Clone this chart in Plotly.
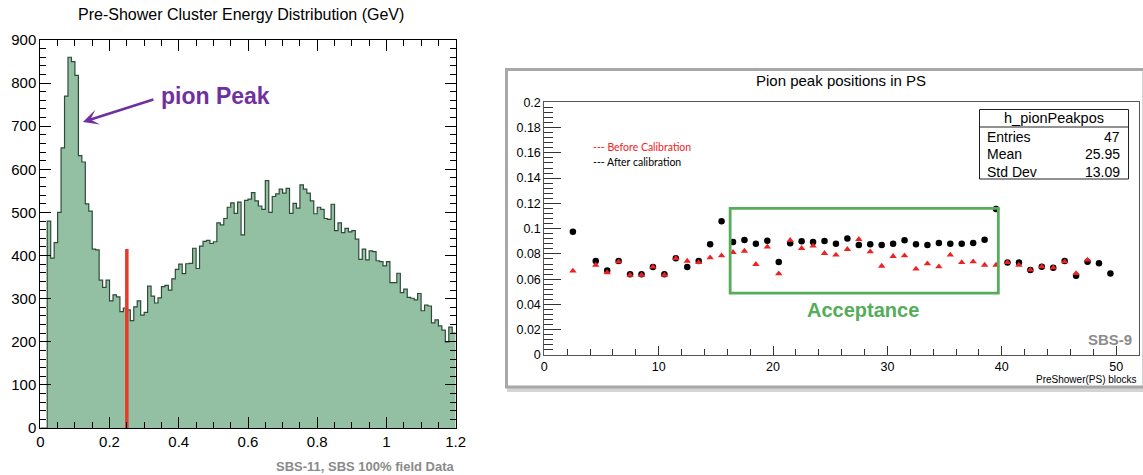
import numpy as np
import plotly.graph_objects as go

W, H = 1143, 475

# ---------------- Left panel data: pre-shower cluster energy histogram ----------------
energy_bin_start = 0.0
energy_bin_width = 0.01
energy_counts = [
    0, 0, 480, 394, 430, 500, 650, 770, 860, 850,
    818, 632, 617, 520, 503, 415, 413, 343, 326, 343,
    295, 309, 304, 270, 278, 274, 249, 281, 295, 262,
    268, 329, 306, 290, 302, 328, 331, 320, 346, 368,
    380, 358, 381, 382, 417, 370, 422, 433, 435, 428,
    432, 476, 471, 486, 512, 522, 498, 524, 448, 528,
    531, 546, 527, 515, 507, 574, 500, 537, 543, 554,
    545, 556, 498, 521, 510, 564, 554, 545, 527, 497,
    512, 507, 486, 484, 519, 458, 476, 453, 463, 455,
    458, 438, 391, 415, 390, 411, 409, 388, 386, 376,
    386, 337, 337, 359, 314, 322, 303, 301, 297, 312,
    272, 285, 283, 244, 251, 237, 227, 200, 234, 220,
]
cut_energy = [0.25, 0.25]
cut_counts = [0, 415]
peak_arrow_target = (0.123, 710)
energy_tickvals = [0, 0.2, 0.4, 0.6, 0.8, 1.0, 1.2]
energy_ticktext = ["0", "0.2", "0.4", "0.6", "0.8", "1", "1.2"]
count_tickvals = [0, 100, 200, 300, 400, 500, 600, 700, 800, 900]
count_ticktext = ["0", "100", "200", "300", "400", "500", "600", "700", "800", "900"]

# ---------------- Right panel data: pion peak positions per PS block ----------------
block_ids = [2.5, 4.5, 5.5, 6.5, 7.5, 8.5, 9.5, 10.5, 11.5, 12.5,
             13.5, 14.5, 15.5, 16.5, 17.5, 18.5, 19.5, 20.5, 21.5, 22.5,
             23.5, 24.5, 25.5, 26.5, 27.5, 28.5, 29.5, 30.5, 31.5, 32.5,
             33.5, 34.5, 35.5, 36.5, 37.5, 38.5, 39.5, 40.5, 41.5, 42.5,
             43.5, 44.5, 45.5, 46.5, 47.5, 48.5, 49.5]
peak_after = [0.0976, 0.0744, 0.0668, 0.0744, 0.0639, 0.0639, 0.0697, 0.0639, 0.0765, 0.0697,
              0.0744, 0.0876, 0.1058, 0.0894, 0.0910, 0.0881, 0.0905, 0.0736, 0.0884, 0.0900,
              0.0894, 0.0902, 0.0881, 0.0923, 0.0871, 0.0876, 0.0871, 0.0881, 0.0908, 0.0876,
              0.0871, 0.0887, 0.0881, 0.0881, 0.0887, 0.0913, 0.1156, 0.0733, 0.0733, 0.0673,
              0.0699, 0.0691, 0.0744, 0.0628, 0.0739, 0.0726, 0.0646]
peak_before = [0.0665, 0.0712, 0.0652, 0.0739, 0.0633, 0.0633, 0.0697, 0.0633, 0.0765, 0.0744,
               0.0733, 0.0770, 0.0786, 0.0813, 0.0823, 0.0718, 0.0855, 0.0644, 0.0908, 0.0844,
               0.0863, 0.0805, 0.0792, 0.0836, 0.0916, 0.0818, 0.0704, 0.0781, 0.0786, 0.0681,
               0.0723, 0.0699, 0.0792, 0.0733, 0.0739, 0.0712, 0.0712, 0.0733, 0.0712, 0.0673,
               0.0699, 0.0691, 0.0739, 0.0646, 0.0752, None, None]
acceptance_blocks = [16.25, 39.7]
acceptance_peak = [0.049, 0.116]
block_tickvals = [0, 10, 20, 30, 40, 50]
block_ticktext = ["0", "10", "20", "30", "40", "50"]
peak_tickvals = [0, 0.02, 0.04, 0.06, 0.08, 0.1, 0.12, 0.14, 0.16, 0.18, 0.2]
peak_ticktext = ["0", "0.02", "0.04", "0.06", "0.08", "0.1", "0.12", "0.14", "0.16", "0.18", "0.2"]
stats_name = "h_pionPeakpos"
stats_labels = ["Entries", "Mean", "Std Dev"]
stats_values = ["47", "25.95", "13.09"]

FONT = "Liberation Sans, Arial, Helvetica, sans-serif"


def px(x):
    return x / W


def py(y):
    return 1 - y / H


edges = energy_bin_start + energy_bin_width * np.arange(len(energy_counts) + 1)
step_y = list(energy_counts) + [energy_counts[-1]]

fig = go.Figure()

# histogram (step outline with fill)
fig.add_trace(go.Scatter(
    x=edges, y=step_y, mode="lines", line=dict(shape="hv", color="#2f4b38", width=1.2),
    fill="tozeroy", fillcolor="#93bfa3", xaxis="x", yaxis="y", showlegend=False,
    hoverinfo="skip"))

# red cut line
fig.add_trace(go.Scatter(
    x=cut_energy, y=cut_counts, mode="lines", line=dict(color="#e8392a", width=3.5),
    xaxis="x", yaxis="y", showlegend=False, hoverinfo="skip"))

# right panel markers
fig.add_trace(go.Scatter(
    x=block_ids, y=peak_after, mode="markers",
    marker=dict(symbol="circle", size=6.5, color="black"),
    xaxis="x2", yaxis="y2", showlegend=False))
fig.add_trace(go.Scatter(
    x=block_ids, y=peak_before, mode="markers",
    marker=dict(symbol="triangle-up", size=6.5, color="#ee2222"),
    xaxis="x2", yaxis="y2", showlegend=False))

shapes = []
# right panel outer canvas with shadow
shapes.append(dict(type="rect", xref="paper", yref="paper",
                   x0=px(509), x1=px(1146), y0=py(72), y1=py(390),
                   line=dict(color="#d4d4d4", width=4), fillcolor="rgba(0,0,0,0)", layer="below"))
shapes.append(dict(type="rect", xref="paper", yref="paper",
                   x0=px(506.5), x1=px(1144), y0=py(69.5), y1=py(387),
                   line=dict(color="#a8a8a8", width=3), fillcolor="white", layer="below"))
# acceptance box
shapes.append(dict(type="rect", xref="x2", yref="y2",
                   x0=acceptance_blocks[0], x1=acceptance_blocks[1],
                   y0=acceptance_peak[0], y1=acceptance_peak[1],
                   line=dict(color="#55ad5a", width=2.8)))
# stats box
shapes.append(dict(type="rect", xref="paper", yref="paper",
                   x0=px(979.5), x1=px(1128.5), y0=py(109.5), y1=py(179),
                   line=dict(color="#222222", width=1), fillcolor="white"))
shapes.append(dict(type="line", xref="paper", yref="paper",
                   x0=px(979.5), x1=px(1128.5), y0=py(127), y1=py(127),
                   line=dict(color="#222222", width=1)))

annotations = []
annotations.append(dict(text="Pre-Shower Cluster Energy Distribution (GeV)", xref="paper", yref="paper",
                        x=px(241), y=py(15), xanchor="center", yanchor="middle", showarrow=False,
                        font=dict(family=FONT, size=16, color="black")))
annotations.append(dict(text="<b>pion Peak</b>", xref="paper", yref="paper",
                        x=px(215), y=py(96), xanchor="center", yanchor="middle", showarrow=False,
                        font=dict(family=FONT, size=23, color="#7030a0")))
annotations.append(dict(text="", xref="x", yref="y", x=peak_arrow_target[0], y=peak_arrow_target[1],
                        ax=72, ay=-23, showarrow=True, arrowhead=3, arrowsize=1,
                        arrowwidth=2.6, arrowcolor="#7030a0"))
annotations.append(dict(text="<b>SBS-11, SBS 100% field Data</b>", xref="paper", yref="paper",
                        x=px(457), y=py(466), xanchor="right", yanchor="middle", showarrow=False,
                        font=dict(family=FONT, size=13, color="#8a8a8a")))
annotations.append(dict(text="Pion peak positions in PS", xref="paper", yref="paper",
                        x=px(841), y=py(81), xanchor="center", yanchor="middle", showarrow=False,
                        font=dict(family=FONT, size=15, color="black")))
annotations.append(dict(text="--- Before Calibration", xref="paper", yref="paper",
                        x=px(591), y=py(146.5), xanchor="left", yanchor="middle", showarrow=False,
                        font=dict(family="Lato, Carlito, sans-serif", size=10.5, color="#ee2222")))
annotations.append(dict(text="--- After calibration", xref="paper", yref="paper",
                        x=px(591), y=py(161.5), xanchor="left", yanchor="middle", showarrow=False,
                        font=dict(family="Lato, Carlito, sans-serif", size=10.5, color="black")))
annotations.append(dict(text=stats_name, xref="paper", yref="paper",
                        x=px(1054), y=py(118), xanchor="center", yanchor="middle", showarrow=False,
                        font=dict(family=FONT, size=14.5, color="black")))
for i, (lab, val) in enumerate(zip(stats_labels, stats_values)):
    yy = 136.5 + 17.7 * i
    annotations.append(dict(text=lab, xref="paper", yref="paper", x=px(985), y=py(yy),
                            xanchor="left", yanchor="middle", showarrow=False,
                            font=dict(family=FONT, size=14, color="black")))
    annotations.append(dict(text=val, xref="paper", yref="paper", x=px(1122), y=py(yy),
                            xanchor="right", yanchor="middle", showarrow=False,
                            font=dict(family=FONT, size=14, color="black")))
annotations.append(dict(text="<b>Acceptance</b>", xref="paper", yref="paper",
                        x=px(863), y=py(310), xanchor="center", yanchor="middle", showarrow=False,
                        font=dict(family=FONT, size=20, color="#55ad5a")))
annotations.append(dict(text="<b>SBS-9</b>", xref="paper", yref="paper",
                        x=px(1134), y=py(339), xanchor="right", yanchor="middle", showarrow=False,
                        font=dict(family=FONT, size=15, color="#8c8c8c")))
annotations.append(dict(text="PreShower(PS) blocks", xref="paper", yref="paper",
                        x=px(1139), y=py(379), xanchor="right", yanchor="middle", showarrow=False,
                        font=dict(family=FONT, size=10, color="black")))

fig.update_layout(
    width=W, height=H, margin=dict(l=0, r=0, t=0, b=0),
    paper_bgcolor="white", plot_bgcolor="rgba(0,0,0,0)",
    showlegend=False, shapes=shapes, annotations=annotations,
    xaxis=dict(domain=[px(40.3), px(455.7)], range=[0, 1.2], anchor="y", automargin=False,
               showgrid=False, zeroline=False, showline=True, linecolor="black", linewidth=1,
               mirror="ticks", ticks="inside", ticklen=11, tickcolor="black", tickwidth=1,
               tickvals=energy_tickvals, ticktext=energy_ticktext,
               minor=dict(dtick=0.05, ticklen=6, tickcolor="black", ticks="inside", showgrid=False),
               tickfont=dict(family=FONT, size=15, color="black")),
    yaxis=dict(domain=[py(428), py(40)], range=[0, 900], anchor="x", automargin=False,
               showgrid=False, zeroline=False, showline=True, linecolor="black", linewidth=1,
               mirror="ticks", ticks="inside", ticklen=11, tickcolor="black", tickwidth=1,
               tickvals=count_tickvals, ticktext=count_ticktext,
               minor=dict(dtick=20, ticklen=6, tickcolor="black", ticks="inside", showgrid=False),
               tickfont=dict(family=FONT, size=15, color="black")),
    xaxis2=dict(domain=[px(544.3), px(1139)], range=[0, 52], anchor="y2", automargin=False,
                showgrid=False, zeroline=False, showline=True, linecolor="#555555", linewidth=1,
                mirror=True, ticks="inside", ticklen=9, tickcolor="#333333", tickwidth=1,
                tickvals=block_tickvals, ticktext=block_ticktext,
                minor=dict(dtick=2, ticklen=6, tickcolor="#333333", ticks="inside", showgrid=False),
                tickfont=dict(family=FONT, size=12.5, color="black")),
    yaxis2=dict(domain=[py(355), py(102.3)], range=[0, 0.2], anchor="x2", automargin=False,
                showgrid=False, zeroline=False, showline=True, linecolor="#555555", linewidth=1,
                mirror=True, ticks="inside", ticklen=17, tickcolor="#333333", tickwidth=1,
                tickvals=peak_tickvals, ticktext=peak_ticktext,
                minor=dict(dtick=0.004, ticklen=9, tickcolor="#333333", ticks="inside", showgrid=False),
                tickfont=dict(family=FONT, size=12.5, color="black")),
)

fig.write_html(
    "out.html",
    config={"responsive": False, "displayModeBar": False},
    post_script="document.body.style.margin='0';document.body.style.padding='0';"
                "document.documentElement.style.overflow='hidden';",
)
